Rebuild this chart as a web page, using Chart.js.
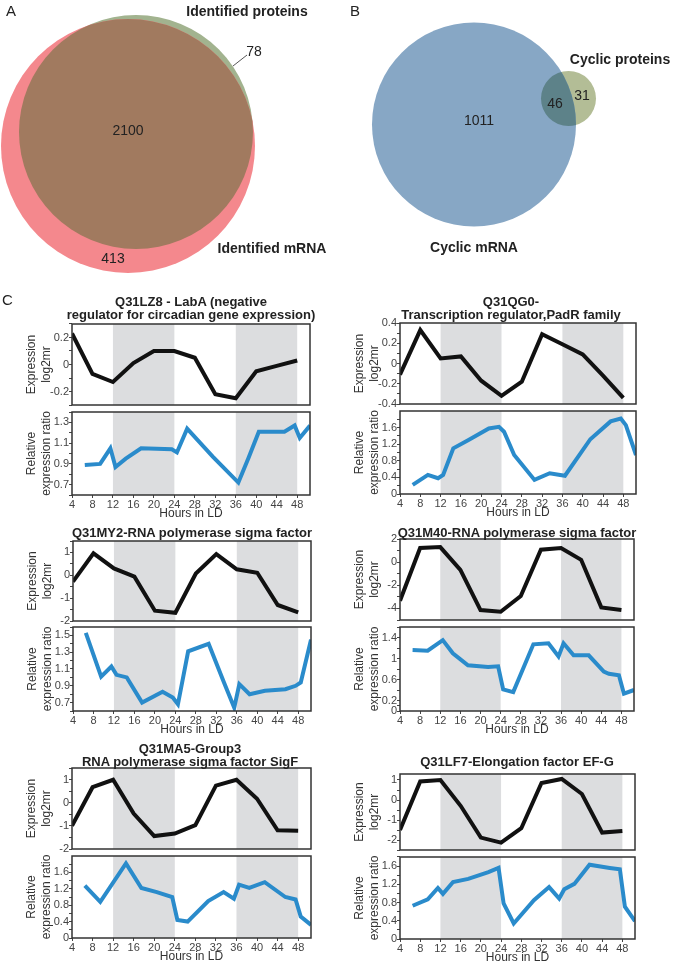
<!DOCTYPE html>
<html>
<head>
<meta charset="utf-8">
<script src="https://cdn.jsdelivr.net/npm/chart.js@4.4.1/dist/chart.umd.min.js"></script>
<style>
html, body { margin: 0; padding: 0; background: #fff; }
#fig { position: relative; width: 674px; height: 965px; overflow: hidden; font-family: "Liberation Sans", Arial, Helvetica, sans-serif; color: #222; }
#fig canvas { position: absolute; }
.t { position: absolute; white-space: nowrap; }
</style>
</head>
<body>
<div id="fig"></div>
<script>
// ---- shared time axis ----
const mrnaHours = [4, 8, 12, 16, 20, 24, 28, 32, 36, 40, 44, 48];
const hourTicks = [4, 8, 12, 16, 20, 24, 28, 32, 36, 40, 44, 48];
const hourRange = [4, 50.5];
const darkPeriods = [[12, 24], [36, 48]];

// ---- A: identified mRNA vs proteins ----
const vennASets = ['Identified mRNA', 'Identified proteins'];
const vennACounts = [413, 2100, 78];           // mRNA only, both, protein only
const vennAX = [128, 136];
const vennAY = [146, 132];
const vennAR = [127, 117];

// ---- B: cyclic mRNA vs proteins ----
const vennBSets = ['Cyclic mRNA', 'Cyclic proteins'];
const vennBCounts = [1011, 46, 31];
const vennBX = [474, 568.5];
const vennBY = [124.5, 98.5];
const vennBR = [102, 27.5];

// ---- C: genes ----
const lz8Title = ['Q31LZ8 - LabA (negative', 'regulator for circadian gene expression)'];
const lz8Mrna = [0.23, -0.07, -0.13, 0.01, 0.10, 0.10, 0.05, -0.22, -0.25, -0.05, -0.01, 0.03];
const lz8MrnaTicks = [-0.2, 0, 0.2];
const lz8MrnaRange = [-0.3, 0.3];
const lz8ProtHours = [6.5, 9.5, 11.5, 12.5, 14.5, 17.5, 23.5, 24.5, 26.5, 31.5, 36.5, 38.5, 40.5, 45.5, 47.5, 48.5, 50.5];
const lz8Prot = [0.89, 0.90, 1.05, 0.87, 0.95, 1.05, 1.04, 1.01, 1.24, 0.97, 0.72, 0.96, 1.21, 1.21, 1.27, 1.15, 1.27];
const lz8ProtTicks = [0.7, 0.9, 1.1, 1.3];
const lz8ProtRange = [0.6, 1.4];

const qg0Title = ['Q31QG0-', 'Transcription regulator,PadR family'];
const qg0Mrna = [-0.11, 0.33, 0.05, 0.07, -0.17, -0.32, -0.18, 0.29, 0.19, 0.09, -0.12, -0.34];
const qg0MrnaTicks = [-0.4, -0.2, 0, 0.2, 0.4];
const qg0MrnaRange = [-0.4, 0.4];
const qg0ProtHours = [6.5, 9.5, 11.5, 12.5, 14.5, 17.5, 21.5, 23.5, 24.5, 26.5, 30.5, 33.5, 36.5, 41.5, 45.5, 47.5, 48.5, 50.5];
const qg0Prot = [0.22, 0.46, 0.38, 0.46, 1.10, 1.30, 1.58, 1.62, 1.50, 0.94, 0.34, 0.50, 0.44, 1.32, 1.75, 1.82, 1.66, 0.94];
const qg0ProtTicks = [0, 0.4, 0.8, 1.2, 1.6];
const qg0ProtRange = [0, 2.0];

const my2Title = ['Q31MY2-RNA polymerase sigma factor'];
const my2Mrna = [-0.28, 0.96, 0.30, -0.06, -1.55, -1.64, 0.08, 0.93, 0.26, 0.11, -1.30, -1.62];
const my2MrnaTicks = [-2, -1, 0, 1];
const my2MrnaRange = [-2, 1.5];
const my2ProtHours = [6.5, 9.5, 11.5, 12.5, 14.5, 17.5, 21.5, 23.5, 24.5, 26.5, 30.5, 33.5, 35.5, 36.5, 38.5, 41.5, 45.5, 47.5, 48.5, 50.5];
const my2Prot = [1.53, 1.01, 1.13, 1.03, 1.00, 0.70, 0.83, 0.76, 0.68, 1.31, 1.40, 0.94, 0.64, 0.92, 0.80, 0.84, 0.86, 0.90, 0.94, 1.45];
const my2ProtTicks = [0.7, 0.9, 1.1, 1.3, 1.5];
const my2ProtRange = [0.6, 1.6];

const m40Title = ['Q31M40-RNA polymerase sigma factor'];
const m40Mrna = [-3.33, 1.22, 1.30, -0.67, -4.14, -4.29, -2.93, 1.07, 1.22, 0.20, -3.91, -4.14];
const m40MrnaTicks = [-4, -2, 0, 2];
const m40MrnaRange = [-5, 2];
const m40ProtHours = [6.5, 9.5, 12.5, 14.5, 17.5, 21.5, 23.5, 24.5, 26.5, 30.5, 33.5, 35.5, 36.5, 38.5, 41.5, 44.5, 45.5, 47.5, 48.5, 50.5];
const m40Prot = [1.16, 1.15, 1.35, 1.10, 0.87, 0.84, 0.85, 0.41, 0.36, 1.27, 1.29, 1.04, 1.29, 1.06, 1.06, 0.75, 0.71, 0.68, 0.33, 0.40];
const m40ProtTicks = [0, 0.2, 0.6, 1, 1.4];
const m40ProtRange = [0, 1.6];

const ma5Title = ['Q31MA5-Group3', 'RNA polymerase sigma factor SigF'];
const ma5Mrna = [-1.00, 0.67, 0.99, -0.47, -1.44, -1.33, -0.97, 0.74, 0.99, 0.17, -1.19, -1.21];
const ma5MrnaTicks = [-2, -1, 0, 1];
const ma5MrnaRange = [-2, 1.5];
const ma5ProtHours = [6.5, 9.5, 14.5, 17.5, 20.5, 23.5, 24.5, 26.5, 30.5, 33.5, 35.5, 36.5, 38.5, 41.5, 45.5, 47.5, 48.5, 50.5];
const ma5Prot = [1.28, 0.88, 1.82, 1.22, 1.12, 1.00, 0.44, 0.40, 0.90, 1.12, 0.96, 1.30, 1.22, 1.36, 1.00, 0.94, 0.52, 0.32];
const ma5ProtTicks = [0, 0.4, 0.8, 1.2, 1.6];
const ma5ProtRange = [0, 2.0];

const lf7Title = ['Q31LF7-Elongation factor EF-G'];
const lf7Mrna = [-1.50, 0.93, 1.00, -0.29, -1.88, -2.13, -1.41, 0.85, 1.05, 0.30, -1.63, -1.55];
const lf7MrnaTicks = [-2, -1, 0, 1];
const lf7MrnaRange = [-2.5, 1.3];
const lf7ProtHours = [6.5, 9.5, 11.5, 12.5, 14.5, 17.5, 21.5, 23.5, 24.5, 26.5, 30.5, 33.5, 35.5, 36.5, 38.5, 41.5, 45.5, 47.5, 48.5, 50.5];
const lf7Prot = [0.73, 0.87, 1.12, 0.99, 1.25, 1.32, 1.47, 1.56, 0.78, 0.34, 0.85, 1.14, 0.89, 1.09, 1.21, 1.63, 1.56, 1.53, 0.71, 0.39];
const lf7ProtTicks = [0, 0.4, 0.8, 1.2, 1.6];
const lf7ProtRange = [0, 1.8];

// ---- layout (pixels) ----
const panels = [
  { title: lz8Title, mrna: lz8Mrna, mT: lz8MrnaTicks, mR: lz8MrnaRange, pH: lz8ProtHours, p: lz8Prot, pT: lz8ProtTicks, pR: lz8ProtRange,
    L: 72, R: 310, T1: 324, B1: 405, T2: 412, B2: 495, tx: 191, ty: [301, 314] },
  { title: qg0Title, mrna: qg0Mrna, mT: qg0MrnaTicks, mR: qg0MrnaRange, pH: qg0ProtHours, p: qg0Prot, pT: qg0ProtTicks, pR: qg0ProtRange,
    L: 400, R: 636, T1: 323, B1: 404, T2: 411, B2: 494, tx: 511, ty: [301, 314] },
  { title: my2Title, mrna: my2Mrna, mT: my2MrnaTicks, mR: my2MrnaRange, pH: my2ProtHours, p: my2Prot, pT: my2ProtTicks, pR: my2ProtRange,
    L: 73, R: 311, T1: 541, B1: 621, T2: 627, B2: 711, tx: 192, ty: [532] },
  { title: m40Title, mrna: m40Mrna, mT: m40MrnaTicks, mR: m40MrnaRange, pH: m40ProtHours, p: m40Prot, pT: m40ProtTicks, pR: m40ProtRange,
    L: 400, R: 634, T1: 539, B1: 620, T2: 627, B2: 711, tx: 517, ty: [532] },
  { title: ma5Title, mrna: ma5Mrna, mT: ma5MrnaTicks, mR: ma5MrnaRange, pH: ma5ProtHours, p: ma5Prot, pT: ma5ProtTicks, pR: ma5ProtRange,
    L: 72, R: 311, T1: 768, B1: 849, T2: 856, B2: 938, tx: 190, ty: [748, 761] },
  { title: lf7Title, mrna: lf7Mrna, mT: lf7MrnaTicks, mR: lf7MrnaRange, pH: lf7ProtHours, p: lf7Prot, pT: lf7ProtTicks, pR: lf7ProtRange,
    L: 400, R: 635, T1: 774, B1: 850, T2: 857, B2: 939, tx: 517, ty: [761] }
];

Chart.defaults.font.family = '"Liberation Sans", Arial, Helvetica, sans-serif';
Chart.defaults.color = '#333';
const fig = document.getElementById('fig');

function addCanvas(left, top, w, h) {
  const c = document.createElement('canvas');
  c.width = w; c.height = h;
  c.style.left = left + 'px'; c.style.top = top + 'px';
  c.style.width = w + 'px'; c.style.height = h + 'px';
  fig.appendChild(c);
  return c;
}

function addText(txt, x, y, size, bold, align) {
  const d = document.createElement('div');
  d.className = 't';
  d.textContent = txt;
  d.style.fontSize = size + 'px';
  d.style.lineHeight = size + 'px';
  d.style.fontWeight = bold ? 'bold' : 'normal';
  d.style.top = (y - size / 2) + 'px';
  d.style.left = x + 'px';
  if (align !== 'left') d.style.transform = 'translateX(-50%)';
  fig.appendChild(d);
}

// Venn diagrams as bubble charts, overlap painted by clipping one circle to the other
const vennOverlap = {
  id: 'vennOverlap',
  afterDatasetsDraw(chart, args, opts) {
    const a = chart.getDatasetMeta(0).data[0];
    const b = chart.getDatasetMeta(1).data[0];
    const ctx = chart.ctx;
    ctx.save();
    ctx.beginPath(); ctx.arc(a.x, a.y, a.options.radius, 0, Math.PI * 2); ctx.clip();
    ctx.beginPath(); ctx.arc(b.x, b.y, b.options.radius, 0, Math.PI * 2);
    ctx.fillStyle = opts.color; ctx.fill();
    ctx.restore();
  }
};

function venn(left, sets, xs, ys, rs, colors, overlap) {
  const c = addCanvas(left, 0, 337, 290);
  new Chart(c, {
    type: 'bubble',
    data: {
      datasets: sets.map((s, i) => ({
        label: s, data: [{ x: xs[i] - left, y: ys[i], r: rs[i] }],
        backgroundColor: colors[i], borderWidth: 0, clip: false
      }))
    },
    options: {
      responsive: false, animation: false, events: [],
      layout: { padding: 0, autoPadding: false },
      scales: { x: { display: false, min: 0, max: 337 }, y: { display: false, min: 0, max: 290, reverse: true } },
      plugins: { legend: { display: false }, tooltip: { enabled: false }, vennOverlap: { color: overlap } }
    },
    plugins: [vennOverlap]
  });
}

venn(0, vennASets, vennAX, vennAY, vennAR, ['#f4888d', '#a2b38f'], '#a17a5f');
venn(337, vennBSets, vennBX, vennBY, vennBR, ['#87a7c5', '#b3bd96'], '#5d8289');

addText('A', 6, 10, 15, false, 'left');
addText(vennASets[1], 247, 11, 14, true);
addText(String(vennACounts[2]), 254, 51, 14, false);
addText(String(vennACounts[1]), 128, 130, 14, false);
addText(String(vennACounts[0]), 113, 258, 14, false);
addText(vennASets[0], 272, 248, 14, true);

addText('B', 350, 10, 15, false, 'left');
addText(vennBSets[1], 620, 59, 14, true);
addText(String(vennBCounts[1]), 555, 103, 14, false);
addText(String(vennBCounts[2]), 582, 95, 14, false);
addText(String(vennBCounts[0]), 479, 120, 14, false);
addText(vennBSets[0], 474, 247, 14, true);

// leader line for the "78" label
const ns = 'http://www.w3.org/2000/svg';
const svg = document.createElementNS(ns, 'svg');
svg.setAttribute('width', '674'); svg.setAttribute('height', '300');
svg.style.position = 'absolute'; svg.style.left = '0'; svg.style.top = '0';
const ln = document.createElementNS(ns, 'line');
ln.setAttribute('x1', '233'); ln.setAttribute('y1', '66'); ln.setAttribute('x2', '247'); ln.setAttribute('y2', '55');
ln.setAttribute('stroke', '#555'); ln.setAttribute('stroke-width', '1');
svg.appendChild(ln); fig.appendChild(svg);

addText('C', 2, 299, 15, false, 'left');

// light/dark shading and frame
const ldFrame = {
  id: 'ldFrame',
  beforeDatasetsDraw(chart) {
    const { ctx, chartArea: a } = chart;
    const x = chart.scales.x;
    ctx.save();
    ctx.fillStyle = '#dcdddf';
    darkPeriods.forEach(([s, e]) => {
      const x0 = x.getPixelForValue(s), x1 = x.getPixelForValue(e);
      ctx.fillRect(x0, a.top, x1 - x0, a.bottom - a.top);
    });
    ctx.restore();
  },
  afterDraw(chart) {
    const { ctx, chartArea: a } = chart;
    ctx.save();
    ctx.strokeStyle = '#333';
    ctx.lineWidth = 1.5;
    ctx.strokeRect(a.left, a.top, a.right - a.left, a.bottom - a.top);
    ctx.restore();
  }
};

function withMinor(major, range) {
  const out = [];
  const first = major[0] - (major[1] - major[0]) / 2;
  if (first >= range[0] - 1e-9) out.push(first);
  major.forEach((v, i) => {
    out.push(v);
    if (i < major.length - 1) out.push((v + major[i + 1]) / 2);
  });
  const n = major.length;
  const last = major[n - 1] + (major[n - 1] - major[n - 2]) / 2;
  if (last <= range[1] + 1e-9) out.push(last);
  return out;
}

function lineChart(canvas, hours, values, color, range, major, yTitle, showX) {
  const allTicks = withMinor(major, range);
  const xScale = {
    type: 'linear', min: hourRange[0], max: hourRange[1], display: showX,
    afterBuildTicks: s => { s.ticks = hourTicks.map(v => ({ value: v })); },
    border: { display: false },
    grid: { drawOnChartArea: false, drawTicks: true, tickLength: 3, color: '#444' },
    ticks: { autoSkip: false, maxRotation: 0, padding: 0, font: { size: 11 }, color: '#444' },
    title: { display: true, text: 'Hours in LD', font: { size: 12 }, color: '#333', padding: 0 }
  };
  if (showX) xScale.afterFit = s => { s.height = 26; };
  return new Chart(canvas, {
    type: 'line',
    data: {
      datasets: [{
        data: hours.map((h, i) => ({ x: h, y: values[i] })),
        borderColor: color, borderWidth: 4, pointRadius: 0, tension: 0, fill: false
      }]
    },
    options: {
      responsive: false, animation: false, events: [],
      layout: { autoPadding: false, padding: { top: 8, bottom: showX ? 0 : 8, left: 0, right: 4 } },
      plugins: { legend: { display: false }, tooltip: { enabled: false } },
      scales: {
        x: xScale,
        y: {
          min: range[0], max: range[1],
          afterBuildTicks: s => { s.ticks = allTicks.map(v => ({ value: v })); },
          afterFit: s => { s.width = 72; },
          border: { display: false },
          grid: { drawOnChartArea: false, drawTicks: true, tickLength: 3, color: '#444' },
          ticks: { autoSkip: false, padding: 0, font: { size: 11 }, color: '#444',
                   callback: v => major.includes(v) ? String(v) : '' },
          title: { display: true, text: yTitle, font: { size: 12, lineHeight: 1.25 }, color: '#333',
                   padding: { top: 24.5, bottom: 0 } }
        }
      }
    },
    plugins: [ldFrame]
  });
}

panels.forEach(p => {
  const w = 72 + (p.R - p.L) + 4;
  const top = addCanvas(p.L - 72, p.T1 - 8, w, (p.B1 - p.T1) + 16);
  lineChart(top, mrnaHours, p.mrna, '#111', p.mR, p.mT, ['Expression', 'log2mr'], false);
  const bot = addCanvas(p.L - 72, p.T2 - 8, w, (p.B2 - p.T2) + 8 + 26);
  lineChart(bot, p.pH, p.p, '#2a8bcb', p.pR, p.pT, ['Relative', 'expression ratio'], true);
  p.title.forEach((line, i) => addText(line, p.tx, p.ty[i], 13, true));
});
</script>
</body>
</html>
